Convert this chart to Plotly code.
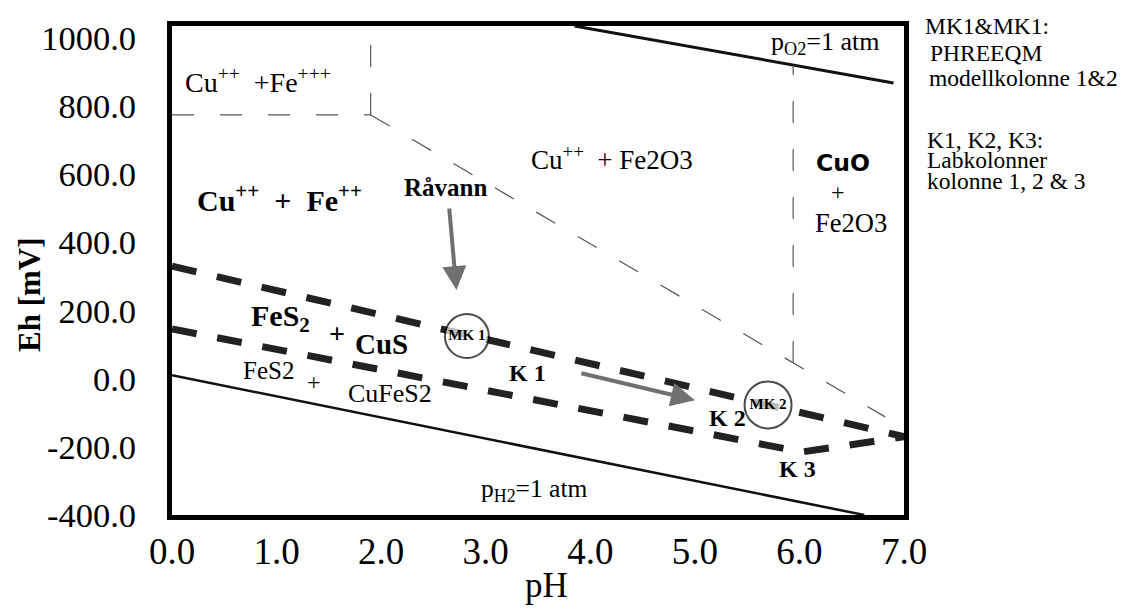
import plotly.graph_objects as go

# ---------------- data ----------------
ph_ticks = [0, 1, 2, 3, 4, 5, 6, 7]
ph_tick_labels = ["0.0", "1.0", "2.0", "3.0", "4.0", "5.0", "6.0", "7.0"]
eh_ticks = [-400, -200, 0, 200, 400, 600, 800, 1000]
eh_tick_labels = ["-400.0", "-200.0", "0.0", "200.0", "400.0", "600.0", "800.0", "1000.0"]

# water stability limits (solid)
o2_ph = [3.85, 6.9]
o2_eh = [1035, 868]
h2_ph = [0.0, 6.62]
h2_eh = [10, -400]

# thin dashed field boundaries
fe3_ph = [0.0, 1.90]
fe3_eh = [774, 774]
cu_fe3_ph = [1.90, 1.90]
cu_fe3_eh = [774, 994]
fe2o3_ph = [1.90, 6.82]
fe2o3_eh = [774, -112]
cuo_ph = [5.94, 5.94]
cuo_eh = [46, 920]

# thick dashed sulphide boundaries
cus_ph = [0.0, 7.0]
cus_eh = [330, -170]
cufes2_ph = [0.0, 5.55, 6.02, 6.41, 6.89, 7.0]
cufes2_eh = [146, -186, -215, -198, -172, -170]

# model column points
mk_names = ["MK 1", "MK 2"]
mk_ph = [2.82, 5.70]
mk_eh = [125, -77]

# arrows (tail -> head)
ravann_arrow_ph = [2.65, 2.72]
ravann_arrow_eh = [504, 260]
k_arrow_ph = [3.90, 5.00]
k_arrow_eh = [17, -63]

# ---------------- figure ----------------
SERIF = "Liberation Serif"
OFF = 8                       # page body margin of the html page
FIG_W, FIG_H = 1130 - 2 * OFF, 615 - 2 * OFF
plot_l, plot_r, plot_t, plot_b = 172, 904, 26, 515   # page pixels
fig = go.Figure()


def line(x, y, width, color, dash="solid"):
    fig.add_trace(go.Scatter(x=x, y=y, mode="lines", hoverinfo="skip",
                             line=dict(width=width, color=color, dash=dash),
                             showlegend=False))


line(o2_ph, o2_eh, 3, "#111111")
line(h2_ph, h2_eh, 2.5, "#111111")
thin = "22px,26px"
line(fe3_ph, fe3_eh, 1.2, "#555555", thin)
line(cu_fe3_ph, cu_fe3_eh, 1.2, "#555555", thin)
line(fe2o3_ph, fe2o3_eh, 1.2, "#555555", thin)
line(cuo_ph, cuo_eh, 1.2, "#555555", thin)
thick = "25px,21px"
line(cus_ph, cus_eh, 7, "#222222", thick)
line(cufes2_ph, cufes2_eh, 7, "#222222", thick)

# circles MK1 / MK2
fig.add_trace(go.Scatter(
    x=mk_ph, y=mk_eh, mode="markers+text", text=["<b>" + t + "</b>" for t in mk_names],
    textposition="middle center", hoverinfo="skip", showlegend=False,
    textfont=dict(family=SERIF, size=15, color="black"),
    marker=dict(symbol="circle", size=[44, 47], color="white",
                line=dict(color="black", width=2))))

annotations = []

# arrows
for (xs, ys) in [(ravann_arrow_ph, ravann_arrow_eh), (k_arrow_ph, k_arrow_eh)]:
    annotations.append(dict(x=xs[1], y=ys[1], ax=xs[0], ay=ys[0], xref="x", yref="y",
                            axref="x", ayref="y", text="", showarrow=True,
                            arrowhead=2, arrowsize=1.2, arrowwidth=4,
                            arrowcolor="#707070"))

# region / curve labels (pH, Eh, text, size)
labels = [
    (0.82, 876, "Cu<sup>++</sup>  +Fe<sup>+++</sup>", 28),
    (1.03, 530, "<b>Cu<sup>++</sup>  +  Fe<sup>++</sup></b>", 30),
    (2.62, 560, "<b>Råvann</b>", 25),
    (4.21, 648, "Cu<sup>++</sup>  + Fe2O3", 27),
    (6.37, 548, "+", 24),
    (6.49, 457, "Fe2O3", 26.5),
    (6.24, 985, "p<sub>O2</sub>=1 atm", 26),
    (1.04, 178, "<b>FeS<sub>2</sub></b>", 30),
    (1.58, 134, "<b>+</b>", 28),
    (2.00, 102, "<b>CuS</b>", 29),
    (0.92, 25, "FeS2", 25),
    (1.36, -10, "+", 24),
    (2.08, -42, "CuFeS2", 26),
    (3.40, 17, "<b>K 1</b>", 24),
    (5.31, -115, "<b>K 2</b>", 24),
    (5.98, -265, "<b>K 3</b>", 24),
    (3.46, -327, "p<sub>H2</sub>=1 atm", 25.5),
]
for (px, py, txt, size) in labels:
    annotations.append(dict(x=px, y=py, xref="x", yref="y", text=txt, showarrow=False,
                            xanchor="center", yanchor="middle",
                            font=dict(family=SERIF, size=size, color="black")))
annotations.append(dict(x=6.42, y=633, xref="x", yref="y", text="<b>CuO</b>",
                        showarrow=False, font=dict(family="DejaVu Sans", size=23.5,
                                                   color="black")))

pw, ph_ = plot_r - plot_l, plot_b - plot_t


def px2paper(xp, yp):
    return (xp - plot_l) / pw, (plot_b - yp) / ph_


notes = [
    (923, 26, "MK1&MK1:"),
    (928, 53, "PHREEQM"),
    (927, 78, "modellkolonne 1&2"),
    (925, 140, "K1, K2, K3:"),
    (925, 160, "Labkolonner"),
    (925, 181, "kolonne 1, 2 & 3"),
]
for (xp, yp, txt) in notes:
    xx, yy = px2paper(xp, yp)
    annotations.append(dict(x=xx, y=yy, xref="paper", yref="paper", text=txt,
                            showarrow=False, xanchor="left", yanchor="middle",
                            font=dict(family=SERIF, size=23.5, color="black")))

# axis titles
xx, yy = px2paper(29, 295)
annotations.append(dict(x=xx, y=yy, xref="paper", yref="paper", text="<b>Eh [mV]</b>",
                        textangle=-90, showarrow=False, xanchor="center", yanchor="middle",
                        font=dict(family=SERIF, size=31, color="black")))
xx, yy = px2paper(546, 585)
annotations.append(dict(x=xx, y=yy, xref="paper", yref="paper", text="pH",
                        showarrow=False, xanchor="center", yanchor="middle",
                        font=dict(family=SERIF, size=35, color="black")))

fig.update_layout(
    width=FIG_W, height=FIG_H, autosize=False,
    margin=dict(l=plot_l - OFF, r=FIG_W - (plot_r - OFF), t=plot_t - OFF,
                b=FIG_H - (plot_b - OFF)),
    paper_bgcolor="white", plot_bgcolor="white",
    annotations=annotations,
    xaxis=dict(range=[0, 7], tickvals=ph_ticks, ticktext=ph_tick_labels,
               showline=True, linewidth=5, linecolor="black", mirror=True,
               showgrid=False, zeroline=False, ticks="", ticklabelstandoff=0,
               tickfont=dict(family=SERIF, size=37, color="black")),
    yaxis=dict(range=[-400, 1035], tickvals=eh_ticks, ticktext=eh_tick_labels,
               showline=True, linewidth=5, linecolor="black", mirror=True,
               showgrid=False, zeroline=False, ticks="", ticklabelstandoff=24,
               tickfont=dict(family=SERIF, size=34.5, color="black")),
)

fig.write_html("out.html")
